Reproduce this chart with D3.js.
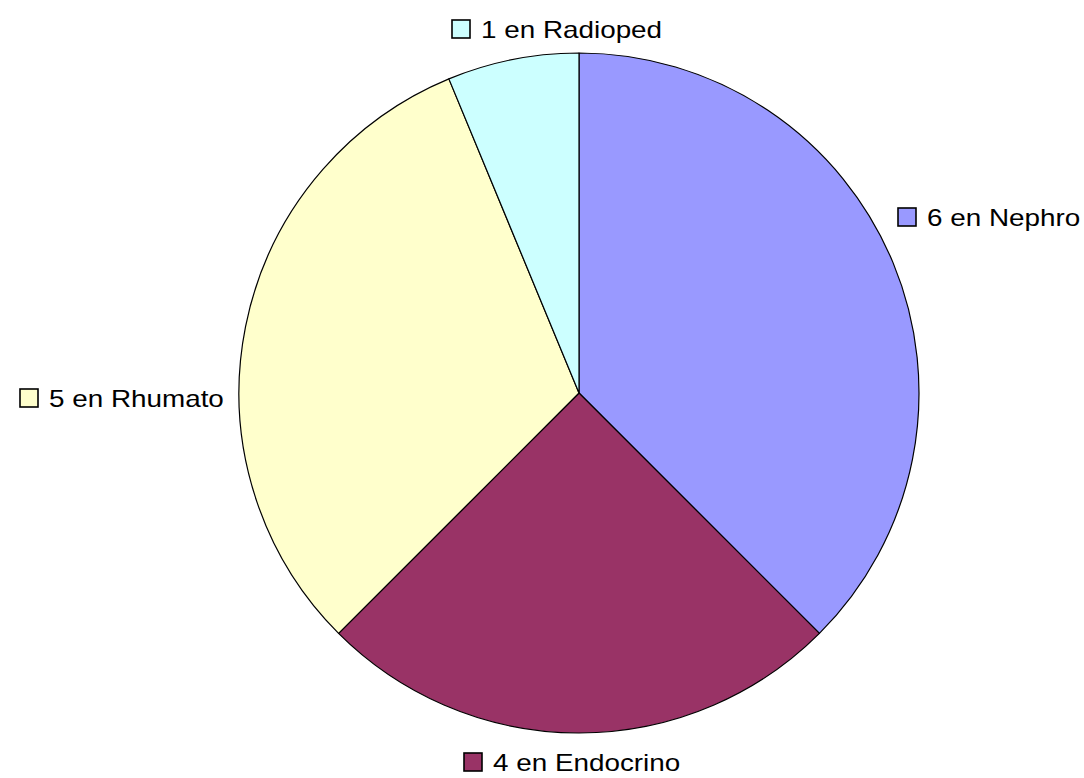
<!DOCTYPE html>
<html>
<head>
<meta charset="utf-8">
<script src="https://cdn.jsdelivr.net/npm/d3@7"></script>
<style>
  html, body { margin: 0; padding: 0; background: #fff; }
  svg { display: block; }
</style>
</head>
<body>
<svg id="chart" width="1084" height="778"></svg>
<script>
// ---- data ----
const categories = ["Nephro", "Endocrino", "Rhumato", "Radioped"];
const values = [6, 4, 5, 1];
const labels = ["6 en Nephro", "4 en Endocrino", "5 en Rhumato", "1 en Radioped"];
const colors = ["#9999FF", "#993366", "#FFFFCC", "#CCFFFF"];

// ---- layout (label key-box top-left corners) ----
const labelBoxes = [[897, 207], [463, 752], [19, 388], [451, 19]];

const svg = d3.select("#chart");
const cx = 579, cy = 393, R = 340;

const pie = d3.pie().sort(null).value(d => d.v);
const arcs = pie(categories.map((c, i) => ({ c, v: values[i], i })));
const arc = d3.arc().innerRadius(0).outerRadius(R);

const g = svg.append("g").attr("transform", `translate(${cx},${cy})`);
g.selectAll("path").data(arcs).join("path")
  .attr("d", arc)
  .attr("fill", d => colors[d.data.i])
  .attr("stroke", "#000")
  .attr("stroke-width", 1.2)
  .attr("stroke-linejoin", "round");

const lg = svg.append("g").selectAll("g").data(arcs).join("g")
  .attr("transform", d => `translate(${labelBoxes[d.data.i][0]},${labelBoxes[d.data.i][1]})`);
lg.append("rect")
  .attr("x", 1).attr("y", 1).attr("width", 18).attr("height", 18)
  .attr("fill", d => colors[d.data.i])
  .attr("stroke", "#000").attr("stroke-width", 1.6);
lg.append("text")
  .attr("transform", "translate(30,19) scale(1.16,1)")
  .attr("font-family", "Liberation Sans, Arial, sans-serif")
  .attr("font-size", 24)
  .attr("fill", "#000")
  .text(d => labels[d.data.i]);
</script>
</body>
</html>
